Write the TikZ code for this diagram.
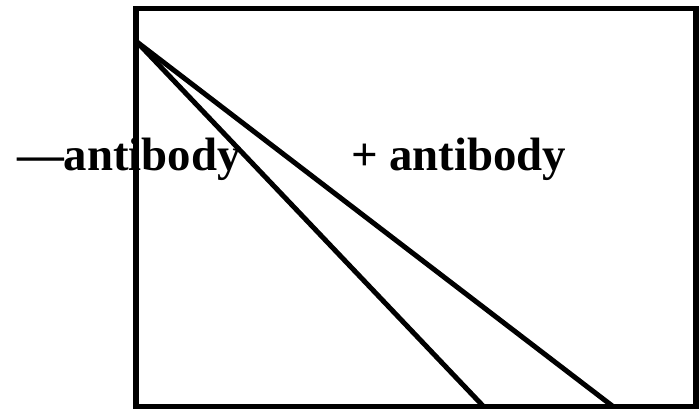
\documentclass[tikz,border=0pt]{standalone}
\usepackage{fontspec}
\setmainfont{Liberation Serif}
\begin{document}
\begin{tikzpicture}[x=1bp,y=-1bp,
  frame/.style={line width=5.5bp,line join=miter},
  curve/.style={line width=5bp},
  lbl/.style={inner sep=0pt,outer sep=0pt,anchor=base west,font=\fontsize{46.8bp}{50bp}\selectfont\bfseries}]
\useasboundingbox (0,0) rectangle (700,408);
\coordinate (tl) at (136,8.5);
\coordinate (br) at (696,406.5);
\draw[frame] (tl) rectangle (br);
\coordinate (apex) at (137,42);
\coordinate (e1) at (485,408);
\coordinate (e2) at (615,408);
\draw[curve] (apex) -- (e1);
\draw[curve] (apex) -- (e2);
\node[lbl] (minus) at (17,170) {—antibody};
\node[lbl] (plus) at (351,170) {+ antibody};
\end{tikzpicture}
\end{document}
